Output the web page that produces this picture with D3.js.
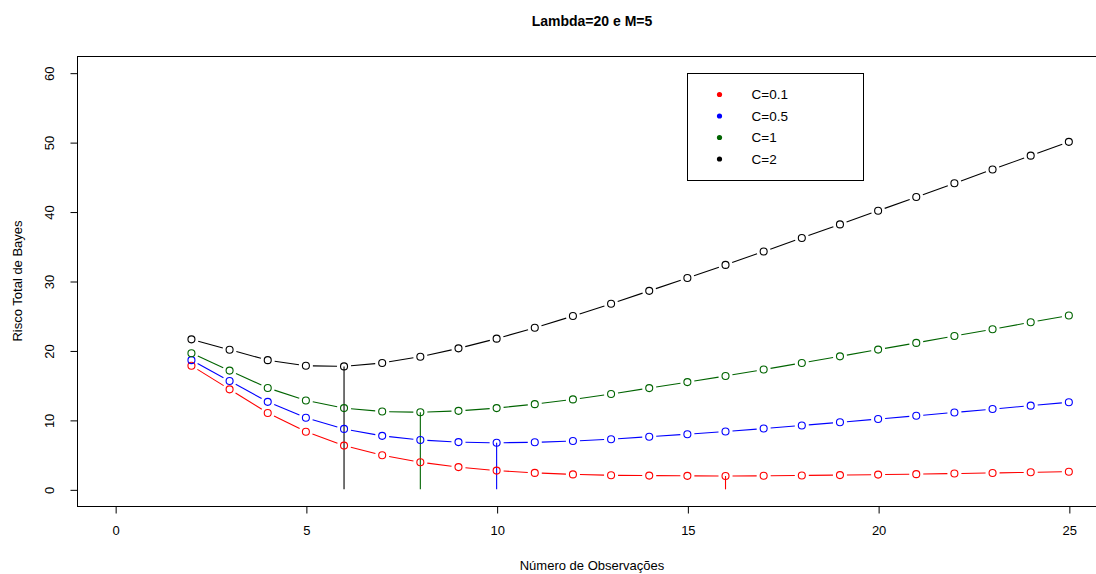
<!DOCTYPE html>
<html>
<head>
<meta charset="utf-8">
<script src="https://cdn.jsdelivr.net/npm/d3@7"></script>
<style>
  html, body { margin: 0; padding: 0; background: #fff; }
  svg text { font-family: "Liberation Sans", Arial, sans-serif; }
</style>
</head>
<body>
<div id="vis-container"></div>
<script>
"use strict";

// Number of observations
const observations = [2, 3, 4, 5, 6, 7, 8, 9, 10, 11, 12, 13, 14, 15, 16, 17, 18, 19, 20, 21, 22, 23, 24, 25];

// Bayes total risk per cost C
const riskC01 = [17.8, 14.4, 11.0, 8.3, 6.3, 4.9, 3.9, 3.2, 2.7, 2.37, 2.15, 2.02, 1.98, 1.94, 1.92, 1.95, 2.0, 2.05, 2.12, 2.19, 2.27, 2.36, 2.45, 2.54];
const riskC05 = [18.6, 15.6, 12.6, 10.3, 8.7, 7.7, 7.1, 6.8, 6.7, 6.77, 6.95, 7.22, 7.58, 7.94, 8.32, 8.75, 9.2, 9.65, 10.12, 10.59, 11.07, 11.56, 12.05, 12.54];
const riskC1 = [19.6, 17.1, 14.6, 12.8, 11.7, 11.2, 11.1, 11.3, 11.7, 12.27, 12.95, 13.72, 14.58, 15.44, 16.32, 17.25, 18.2, 19.15, 20.12, 21.09, 22.07, 23.06, 24.05, 25.04];
const riskC2 = [21.6, 20.1, 18.6, 17.8, 17.7, 18.2, 19.1, 20.3, 21.7, 23.27, 24.95, 26.72, 28.58, 30.44, 32.32, 34.25, 36.2, 38.15, 40.12, 42.09, 44.07, 46.06, 48.05, 50.04];

const seriesLabels = ["C=0.1", "C=0.5", "C=1", "C=2"];
const seriesColors = ["#ff0000", "#0000ff", "#006400", "#000000"];

const xTicks = [0, 5, 10, 15, 20, 25];
const yTicks = [0, 10, 20, 30, 40, 50, 60];

function mainIndex()
{
    const width = 1096;
    const height = 574;

    const margin = { top: 56, right: -11, bottom: 68, left: 77 };
    const plotW = width - margin.left - margin.right;
    const plotH = height - margin.top - margin.bottom;

    // R style: 4% padding around the data range
    const x = d3.scaleLinear().domain([-1, 26]).range([0, plotW]);
    const y = d3.scaleLinear().domain([-2.4, 62.4]).range([plotH, 0]);

    const svg = d3.select("#vis-container")
        .append("svg")
        .attr("width", width)
        .attr("height", height);

    const g = svg.append("g")
        .attr("transform", `translate(${margin.left},${margin.top})`);

    const allSeries = [riskC01, riskC05, riskC1, riskC2].map((vals, i) => ({
        label: seriesLabels[i],
        color: seriesColors[i],
        points: observations.map((n, j) => ({ n: n, v: vals[j] }))
    }));

    // Plot box
    g.append("rect")
        .attr("x", 0.5)
        .attr("y", 0.5)
        .attr("width", plotW)
        .attr("height", plotH)
        .attr("fill", "none")
        .attr("stroke", "#000")
        .attr("stroke-width", 1);

    // x axis
    const xAxis = d3.axisBottom(x).tickValues(xTicks).tickSize(7).tickPadding(12);
    const gx = g.append("g")
        .attr("transform", `translate(0.5,${plotH + 0.5})`)
        .call(xAxis);
    gx.select(".domain").attr("d", `M${x(0)},0H${x(25)}`);
    gx.selectAll("text").style("font-size", "13px").attr("fill", "#000");

    // y axis with labels parallel to the axis
    const yAxis = d3.axisLeft(y).tickValues(yTicks).tickSize(7);
    const gy = g.append("g")
        .attr("transform", "translate(0.5,0.5)")
        .call(yAxis);
    gy.select(".domain").attr("d", `M0,${y(0)}V${y(60)}`);
    gy.selectAll(".tick text")
        .attr("x", null)
        .attr("dy", null)
        .attr("transform", "translate(-28,0) rotate(-90)")
        .attr("text-anchor", "middle")
        .attr("dominant-baseline", "central")
        .style("font-size", "13px")
        .attr("fill", "#000");

    // Vertical lines at each series minimum
    allSeries.forEach(s => {
        const best = s.points.reduce((a, b) => (b.v < a.v ? b : a));
        g.append("line")
            .attr("x1", x(best.n))
            .attr("x2", x(best.n))
            .attr("y1", y(0))
            .attr("y2", y(best.v))
            .attr("stroke", s.color)
            .attr("stroke-width", 1.1);
    });

    // Lines with gaps (type = "b") and open circles
    const gap = 7;
    allSeries.forEach(s => {
        const sg = g.append("g");
        for (let i = 0; i < s.points.length - 1; i++) {
            const x1 = x(s.points[i].n), y1 = y(s.points[i].v);
            const x2 = x(s.points[i + 1].n), y2 = y(s.points[i + 1].v);
            const len = Math.hypot(x2 - x1, y2 - y1);
            if (len <= 2 * gap) continue;
            const ux = (x2 - x1) / len, uy = (y2 - y1) / len;
            sg.append("line")
                .attr("x1", x1 + ux * gap)
                .attr("y1", y1 + uy * gap)
                .attr("x2", x2 - ux * gap)
                .attr("y2", y2 - uy * gap)
                .attr("stroke", s.color)
                .attr("stroke-width", 1.1);
        }
        sg.selectAll("circle")
            .data(s.points)
            .enter()
            .append("circle")
            .attr("cx", d => x(d.n))
            .attr("cy", d => y(d.v))
            .attr("r", 3.5)
            .attr("fill", "none")
            .attr("stroke", s.color)
            .attr("stroke-width", 1.1);
    });

    // Legend
    const legend = svg.append("g")
        .attr("transform", "translate(687.5,73.5)");
    legend.append("rect")
        .attr("width", 176)
        .attr("height", 107)
        .attr("fill", "#fff")
        .attr("stroke", "#000");
    const items = legend.selectAll(".legend-label")
        .data(allSeries)
        .enter()
        .append("g")
        .attr("class", "legend-label")
        .attr("transform", (d, i) => `translate(0,${21 + i * 21.5})`);
    items.append("circle")
        .attr("cx", 32)
        .attr("r", 2.6)
        .attr("fill", d => d.color);
    items.append("text")
        .attr("x", 64)
        .attr("dy", "0.35em")
        .style("font-size", "13.5px")
        .text(d => d.label);

    // Title and axis titles
    svg.append("text")
        .attr("x", margin.left + plotW / 2)
        .attr("y", 26)
        .attr("text-anchor", "middle")
        .style("font-size", "14px")
        .style("font-weight", "bold")
        .text("Lambda=20 e M=5");

    svg.append("text")
        .attr("x", margin.left + plotW / 2)
        .attr("y", 570)
        .attr("text-anchor", "middle")
        .style("font-size", "13px")
        .text("Número de Observações");

    svg.append("text")
        .attr("transform", `translate(22,${margin.top + plotH / 2}) rotate(-90)`)
        .attr("text-anchor", "middle")
        .style("font-size", "13px")
        .text("Risco Total de Bayes");
}

document.addEventListener("DOMContentLoaded", mainIndex);
</script>
</body>
</html>
